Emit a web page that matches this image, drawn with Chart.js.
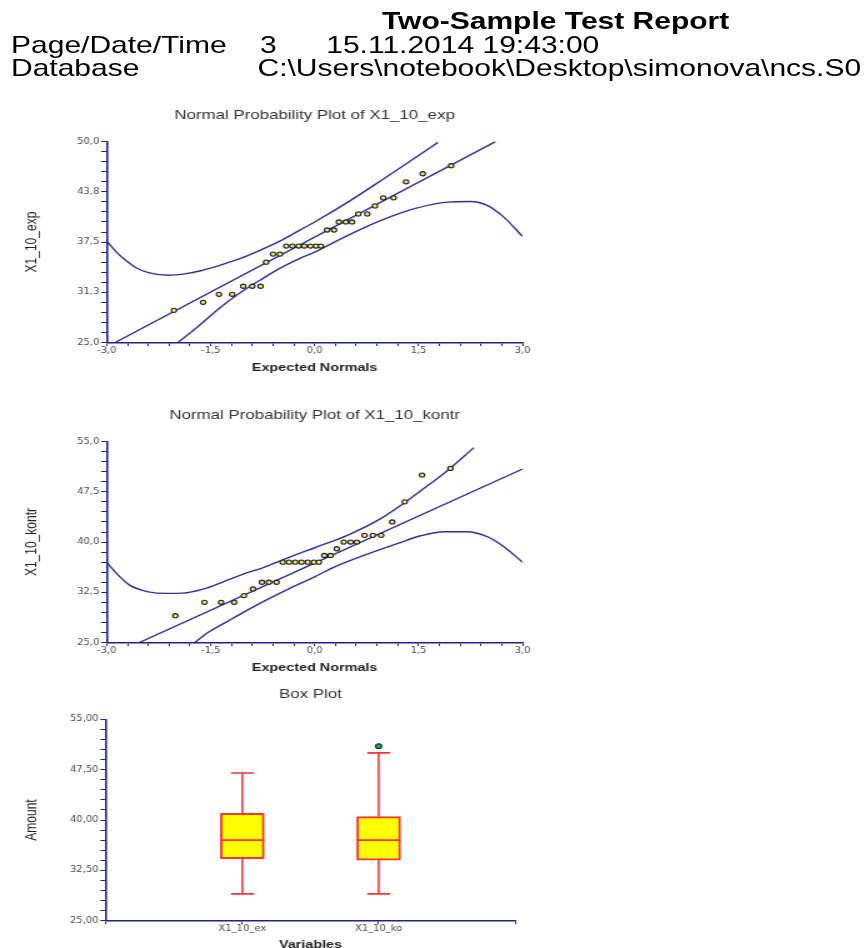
<!DOCTYPE html>
<html>
<head>
<meta charset="utf-8">
<title>Two-Sample Test Report</title>
<script src="https://cdn.jsdelivr.net/npm/chart.js@4.4.1/dist/chart.umd.min.js"></script>
<style>
  html, body { margin: 0; padding: 0; background: #fff; overflow: hidden; width: 864px; height: 948px; }
  /* the report page is stretched 1.25x horizontally */
  #page { position: absolute; left: 0; top: 0; width: 691.2px; height: 960px; transform: scaleX(1.25); transform-origin: 0 0; }
  .hdr { position: absolute; font-family: 'Liberation Sans', Arial, sans-serif; font-size: 24px; line-height: 24px; color: #000; white-space: nowrap; }
  .hdr.b { font-weight: bold; }
  canvas { position: absolute; left: 0; }
</style>
</head>
<body>
<div id="page">
  <div class="hdr b" style="left:305.6px; top:9.2px">Two-Sample Test Report</div>
  <div class="hdr" style="left:8.8px; top:33.2px">Page/Date/Time</div>
  <div class="hdr" style="left:208px; top:33.2px">3</div>
  <div class="hdr" style="left:261px; top:33.2px">15.11.2014 19:43:00</div>
  <div class="hdr" style="left:8.8px; top:56.2px">Database</div>
  <div class="hdr" style="left:206px; top:56.2px">C:\Users\notebook\Desktop\simonova\ncs.S0</div>

  <canvas id="expPlot" width="440" height="280" style="top:100px"></canvas>
  <canvas id="kontrPlot" width="440" height="280" style="top:400px"></canvas>
  <canvas id="boxPlot" width="440" height="290" style="top:670px"></canvas>
</div>

<script>
// X1_10_exp : expected normals and sorted values
const expNormals = [-2.03, -1.61, -1.38, -1.19, -1.03, -0.90, -0.78, -0.70, -0.60, -0.50,
                    -0.41, -0.32, -0.23, -0.15, -0.06, 0.02, 0.09, 0.18, 0.28, 0.35,
                    0.45, 0.54, 0.63, 0.76, 0.87, 0.99, 1.14, 1.32, 1.56, 1.97];
const expValues = [29, 30, 31, 31, 32, 32, 32, 35, 36, 36,
                   37, 37, 37, 37, 37, 37, 37, 39, 39, 40,
                   40, 40, 41, 41, 42, 43, 43, 45, 46, 47];
const expUpperX = [-3, -2.86, -2.71, -2.57, -2.40, -2.11, -1.85, -1.66, -1.37, -1.08, -0.79, -0.51, -0.22, 0, 0.48, 0.96, 1.44, 1.78];
const expUpperY = [37.6, 36.25, 35.1, 34.27, 33.7, 33.36, 33.57, 33.9, 34.6, 35.43, 36.47, 37.58, 38.95, 40.0, 42.47, 45.16, 47.93, 49.9];
const expLowerX = [-1.97, -1.66, -1.37, -1.08, -0.79, -0.51, -0.22, 0, 0.48, 0.96, 1.44, 1.92, 2.25, 2.49, 2.73, 3.0];
const expLowerY = [25, 27.15, 29.3, 31.15, 32.74, 34.19, 35.43, 36.25, 38.33, 40.19, 41.65, 42.47, 42.55, 42.06, 40.6, 38.2];
const expFitX = [-2.88, 2.61];
const expFitY = [25, 50];

// X1_10_kontr
const kontrNormals = [-2.01, -1.59, -1.35, -1.16, -1.02, -0.89, -0.76, -0.66, -0.55, -0.46,
                      -0.37, -0.28, -0.19, -0.10, -0.01, 0.06, 0.14, 0.23, 0.32, 0.42,
                      0.52, 0.61, 0.72, 0.84, 0.96, 1.12, 1.30, 1.55, 1.96];
const kontrValues = [29, 31, 31, 31, 32, 33, 34, 34, 34, 37,
                     37, 37, 37, 37, 37, 37, 38, 38, 39, 40,
                     40, 40, 41, 41, 41, 43, 46, 50, 51];
const kontrUpperX = [-3, -2.86, -2.67, -2.40, -2.14, -1.90, -1.61, -1.32, -1.04, -0.75, -0.46, -0.22, 0, 0.48, 0.96, 1.32, 1.58, 1.87, 2.30];
const kontrUpperY = [36.96, 35.32, 33.57, 32.57, 32.33, 32.37, 32.97, 34.06, 35.17, 36.16, 37.35, 38.31, 39.15, 41.05, 43.54, 46.03, 48.03, 50.27, 54.1];
const kontrLowerX = [-1.73, -1.56, -1.27, -0.99, -0.70, -0.41, 0, 0.29, 0.72, 1.20, 1.53, 1.87, 2.20, 2.49, 2.73, 3.0];
const kontrLowerY = [25, 26.35, 28.08, 29.73, 31.33, 32.82, 34.81, 36.3, 38.05, 39.8, 40.94, 41.54, 41.54, 40.8, 39.3, 37.0];
const kontrFitX = [-2.53, 3.0];
const kontrFitY = [25, 50.9];

// box plot
const boxLabels = ['X1_10_ex', 'X1_10_ko'];
const boxMin = [29, 29];
const boxQ1 = [34.25, 34];
const boxMedian = [37, 37];
const boxQ3 = [41, 40.5];
const boxMax = [47, 50];
const boxOutliers = [[], [51]];

const FONT = 'Liberation Sans';
const NAVY = '#20208f';
const CURVE = '#2e2e9c';
const TICK_COLOR = '#4a4a4a';
const TICK_FONT = {family: 'DejaVu Sans', size: 8};
const RED = '#ff3434';

const pairs = (xs, ys) => xs.map((x, i) => ({x: x, y: ys[i]}));
const near = (v, step) => Math.abs(v / step - Math.round(v / step)) < 1e-6;
const comma = (v, d) => v.toFixed(d).replace('.', ',');

function leftAxis(min, max, step, every, digits, title, width, titleGap) {
  return {
    type: 'linear', min: min, max: max,
    border: {color: NAVY, width: 1.6},
    grid: {drawOnChartArea: false, tickLength: 4.5, color: NAVY, lineWidth: 1},
    ticks: {stepSize: step, autoSkip: false, padding: 1.4, color: TICK_COLOR, font: TICK_FONT,
            callback: v => near(v - min, every) ? comma(v, digits) : ''},
    title: {display: true, text: title, color: '#222', font: {family: FONT, size: 12},
            padding: {top: titleGap, bottom: 0}},
    afterFit: s => { s.width = width; }
  };
}

function bottomAxis(min, max, step, label, title, height, titleGap) {
  return {
    type: 'linear', min: min, max: max, offset: false,
    border: {color: NAVY, width: 1.6},
    grid: {drawOnChartArea: false, offset: false, tickLength: 3.5, color: NAVY, lineWidth: 1},
    ticks: {stepSize: step, autoSkip: false, maxRotation: 0, minRotation: 0, padding: 0,
            color: TICK_COLOR, font: TICK_FONT, callback: label},
    title: {display: true, text: title, color: '#222', font: {family: FONT, size: 11.5, weight: 'bold'},
            padding: {top: 0, bottom: titleGap}},
    afterFit: s => { s.height = height; }
  };
}

function plotTitle(text, top, bottom) {
  return {display: true, fullSize: false, text: text, color: '#333',
          font: {family: FONT, size: 13.5, weight: 'normal'}, padding: {top: top, bottom: bottom}};
}

const curve = (xs, ys) => ({data: pairs(xs, ys), showLine: true, pointRadius: 0, borderColor: CURVE,
  borderWidth: 1.4, cubicInterpolationMode: 'monotone', order: 1});

function normalPlot(id, title, yTitle, normals, values, upper, lower, fit, yMax, yStep, yEvery) {
  new Chart(document.getElementById(id), {
    type: 'scatter',
    data: {
      datasets: [
        {data: pairs(normals, values), order: 0, pointRadius: 2.1, pointBorderWidth: 1.1,
         pointBackgroundColor: '#ffff00', pointBorderColor: '#14146a'},
        curve(upper[0], upper[1]),
        curve(lower[0], lower[1]),
        curve(fit[0], fit[1])
      ]
    },
    options: {
      responsive: false, animation: false, events: [],
      layout: {padding: {left: 0, right: 22, top: 0, bottom: 0}},
      plugins: {legend: {display: false}, tooltip: {enabled: false}, title: plotTitle(title, 7.6, 17.8)},
      scales: {
        x: bottomAxis(-3, 3, 0.3, v => near(v + 3, 1.5) ? comma(v, 1) : '', 'Expected Normals', 37.5, 5.6),
        y: leftAxis(25, yMax, yStep, yEvery, 1, yTitle, 85.4, 18.4)
      }
    }
  });
}

normalPlot('expPlot', 'Normal Probability Plot of X1_10_exp', 'X1_10_exp', expNormals, expValues,
  [expUpperX, expUpperY], [expLowerX, expLowerY], [expFitX, expFitY], 50, 1.25, 6.25);
normalPlot('kontrPlot', 'Normal Probability Plot of X1_10_kontr', 'X1_10_kontr', kontrNormals, kontrValues,
  [kontrUpperX, kontrUpperY], [kontrLowerX, kontrLowerY], [kontrFitX, kontrFitY], 55, 1.5, 7.5);

// box plot: boxes are floating bars, whiskers / caps / medians are line segments
const BOX_HALF = 0.16, CAP_HALF = 0.084;
const segment = (x1, y1, x2, y2, w) => ({type: 'scatter', data: [{x: x1, y: y1}, {x: x2, y: y2}],
  showLine: true, pointRadius: 0, borderColor: RED, borderWidth: w, order: 0});
const boxSets = [{
  type: 'bar', order: 2,
  data: boxLabels.map((_, i) => ({x: i + 1, y: [boxQ1[i], boxQ3[i]]})),
  backgroundColor: '#ffff00', borderColor: RED, borderWidth: 2, borderSkipped: false, barThickness: 35
}];
boxLabels.forEach((_, i) => {
  const c = i + 1;
  boxSets.push(segment(c, boxMin[i], c, boxQ1[i], 1.6));
  boxSets.push(segment(c, boxQ3[i], c, boxMax[i], 1.6));
  boxSets.push(segment(c - CAP_HALF, boxMin[i], c + CAP_HALF, boxMin[i], 1.6));
  boxSets.push(segment(c - CAP_HALF, boxMax[i], c + CAP_HALF, boxMax[i], 1.6));
  boxSets.push(segment(c - BOX_HALF, boxMedian[i], c + BOX_HALF, boxMedian[i], 1.6));
});
boxSets.push({
  type: 'scatter', order: -1,
  data: boxOutliers.flatMap((ys, i) => ys.map(y => ({x: i + 1, y: y}))),
  pointRadius: 2.4, pointBorderWidth: 1.1, pointBackgroundColor: '#00d000', pointBorderColor: '#14146a'
});

new Chart(document.getElementById('boxPlot'), {
  type: 'bar',
  data: {datasets: boxSets},
  options: {
    responsive: false, animation: false, events: [],
    layout: {padding: {left: 0, right: 28, top: 0, bottom: 0}},
    plugins: {legend: {display: false}, tooltip: {enabled: false}, title: plotTitle('Box Plot', 15.9, 17.2)},
    scales: {
      x: bottomAxis(0, 3, 1, v => boxLabels[v - 1] ?? '', 'Variables', 39.3, 8.1),
      y: leftAxis(25, 55, 1.5, 7.5, 2, 'Amount', 84.8, 18.1)
    }
  }
});
</script>
</body>
</html>
